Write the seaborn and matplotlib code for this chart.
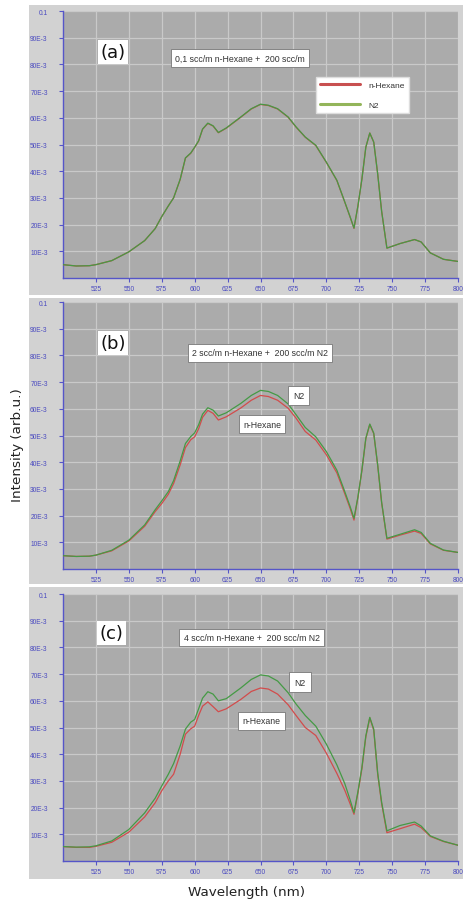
import matplotlib
matplotlib.use("Agg")
import matplotlib.pyplot as plt
from matplotlib.patches import Rectangle
from matplotlib.lines import Line2D
import seaborn as sns
import pandas as pd

# ---------------- data ----------------
wavelength = [500, 510, 520, 525, 537, 550, 562, 570, 575, 580, 584, 589, 593, 597, 600,
              603, 606, 610, 614, 618, 624, 635, 643, 650, 656, 663, 671, 677, 684, 692,
              700, 708, 714, 718, 721, 724, 727, 730, 733, 736, 739, 742, 746, 756, 767,
              772, 779, 789, 800]

a_n2 = [0.0050, 0.0045, 0.0046, 0.0050, 0.0065, 0.0098, 0.0140, 0.0185, 0.0230, 0.0270,
        0.0300, 0.0370, 0.0450, 0.0468, 0.0490, 0.0514, 0.0558, 0.0580, 0.0570, 0.0545,
        0.0562, 0.0603, 0.0634, 0.0651, 0.0647, 0.0634, 0.0603, 0.0566, 0.0528, 0.0497,
        0.0434, 0.0366, 0.0285, 0.0230, 0.0187, 0.0270, 0.0370, 0.0490, 0.0543, 0.0509,
        0.0390, 0.0250, 0.0112, 0.0129, 0.0144, 0.0135, 0.0094, 0.0070, 0.0062]
a_hex = [0.0050, 0.0045, 0.0046, 0.0050, 0.0065, 0.0098, 0.0140, 0.0185, 0.0230, 0.0270,
         0.0300, 0.0369, 0.0449, 0.0467, 0.0489, 0.0513, 0.0557, 0.0579, 0.0569, 0.0544,
         0.0561, 0.0602, 0.0633, 0.0650, 0.0646, 0.0633, 0.0602, 0.0565, 0.0527, 0.0496,
         0.0433, 0.0365, 0.0284, 0.0229, 0.0186, 0.0270, 0.0370, 0.0490, 0.0543, 0.0509,
         0.0390, 0.0250, 0.0112, 0.0129, 0.0144, 0.0135, 0.0094, 0.0070, 0.0062]

b_n2 = [0.0050, 0.0047, 0.0048, 0.0052, 0.0070, 0.0108, 0.0165, 0.0222, 0.0255, 0.0290,
        0.0331, 0.0405, 0.0470, 0.0496, 0.0510, 0.0540, 0.0580, 0.0604, 0.0595, 0.0573,
        0.0585, 0.0620, 0.0650, 0.0669, 0.0665, 0.0650, 0.0618, 0.0578, 0.0530, 0.0495,
        0.0440, 0.0370, 0.0290, 0.0235, 0.0190, 0.0270, 0.0370, 0.0490, 0.0543, 0.0509,
        0.0390, 0.0250, 0.0115, 0.0130, 0.0147, 0.0137, 0.0096, 0.0071, 0.0062]
b_hex = [0.0050, 0.0047, 0.0048, 0.0052, 0.0068, 0.0105, 0.0160, 0.0215, 0.0245, 0.0280,
         0.0320, 0.0390, 0.0455, 0.0484, 0.0495, 0.0525, 0.0568, 0.0594, 0.0583, 0.0558,
         0.0570, 0.0603, 0.0632, 0.0650, 0.0646, 0.0632, 0.0602, 0.0565, 0.0515, 0.0483,
         0.0428, 0.0360, 0.0282, 0.0228, 0.0183, 0.0268, 0.0368, 0.0488, 0.0541, 0.0507,
         0.0388, 0.0248, 0.0112, 0.0127, 0.0142, 0.0133, 0.0094, 0.0070, 0.0062]

c_n2 = [0.0054, 0.0052, 0.0053, 0.0057, 0.0075, 0.0118, 0.0180, 0.0235, 0.0281, 0.0325,
        0.0365, 0.0431, 0.0494, 0.0520, 0.0530, 0.0570, 0.0610, 0.0634, 0.0625, 0.0600,
        0.0608, 0.0648, 0.0680, 0.0697, 0.0693, 0.0674, 0.0630, 0.0588, 0.0545, 0.0505,
        0.0438, 0.0360, 0.0290, 0.0230, 0.0181, 0.0260, 0.0350, 0.0469, 0.0538, 0.0494,
        0.0330, 0.0220, 0.0113, 0.0133, 0.0146, 0.0131, 0.0094, 0.0074, 0.0059]
c_hex = [0.0054, 0.0051, 0.0051, 0.0055, 0.0070, 0.0108, 0.0165, 0.0218, 0.0263, 0.0300,
         0.0325, 0.0400, 0.0475, 0.0495, 0.0505, 0.0545, 0.0580, 0.0596, 0.0578, 0.0559,
         0.0570, 0.0605, 0.0635, 0.0648, 0.0644, 0.0625, 0.0585, 0.0545, 0.0500, 0.0470,
         0.0404, 0.0328, 0.0265, 0.0215, 0.0175, 0.0255, 0.0345, 0.0465, 0.0536, 0.0490,
         0.0325, 0.0215, 0.0106, 0.0121, 0.0138, 0.0125, 0.0092, 0.0073, 0.0059]

series_names = ["n-Hexane", "N2"]
panel_labels = ["(a)", "(b)", "(c)"]
panel_titles = ["0,1 scc/m n-Hexane +  200 scc/m",
                "2 scc/m n-Hexane +  200 scc/m N2",
                "4 scc/m n-Hexane +  200 scc/m N2"]
x_ticks = [525, 550, 575, 600, 625, 650, 675, 700, 725, 750, 775, 800]
y_ticks = [0.01, 0.02, 0.03, 0.04, 0.05, 0.06, 0.07, 0.08, 0.09, 0.1]
y_tick_labels = ["10E-3", "20E-3", "30E-3", "40E-3", "50E-3", "60E-3", "70E-3", "80E-3", "90E-3", "0.1"]
x_label = "Wavelength (nm)"
y_label = "Intensity (arb.u.)"

panels = [(a_hex, a_n2), (b_hex, b_n2), (c_hex, c_n2)]

# ---------------- style ----------------
sns.set_style("white")
plt.rcParams["font.family"] = ["Liberation Sans", "DejaVu Sans"]

W, H = 463, 903
fig = plt.figure(figsize=(W / 100, H / 100), dpi=100)
fig.patch.set_facecolor("white")

outer_color = "#d2d2d2"
plot_bg = "#ababab"
grid_color = "#c9c9c9"
axis_blue = "#5555c8"
tick_blue = "#4a4ac0"
palette = {"n-Hexane": "#d24c4c", "N2": "#459a45"}

outer_boxes = [(6, 296), (299, 585), (588, 880)]
axes_tops = [12, 303, 595]
ax_h = 267
ax_left, ax_right = 63, 458

lab_pos = [(0.1266, 0.846), (0.1266, 0.846), (0.123, 0.854)]
title_pos = [(0.448, 0.824), (0.499, 0.809), (0.478, 0.837)]
n2_pos = [None, (0.596, 0.650), (0.600, 0.670)]
hex_pos = [None, (0.504, 0.543), (0.502, 0.525)]

box_kw = dict(boxstyle="square,pad=0.5", facecolor="white", edgecolor="#777777", linewidth=0.6)

for i, ((hx, n2), (ot, ob), at) in enumerate(zip(panels, outer_boxes, axes_tops)):
    fig.add_artist(Rectangle((29 / W, 1 - ob / H), (W - 29) / W, (ob - ot) / H,
                             transform=fig.transFigure, facecolor=outer_color,
                             edgecolor="none", zorder=0))
    ax = fig.add_axes([ax_left / W, 1 - (at + ax_h) / H, (ax_right - ax_left) / W, ax_h / H])
    ax.set_facecolor(plot_bg)

    df = pd.DataFrame({
        "wavelength": wavelength + wavelength,
        "intensity": list(hx) + list(n2),
        "series": [series_names[0]] * len(wavelength) + [series_names[1]] * len(wavelength),
    })
    sns.lineplot(data=df, x="wavelength", y="intensity", hue="series",
                 hue_order=series_names, palette=palette, linewidth=0.9,
                 legend=False, ax=ax, zorder=3)

    ax.set_xlim(500, 800)
    ax.set_ylim(0, 0.1)
    ax.set_xticks(x_ticks)
    ax.set_xticklabels([str(t) for t in x_ticks])
    ax.set_yticks(y_ticks)
    ax.set_yticklabels(y_tick_labels)
    ax.set_xlabel("")
    ax.set_ylabel("")
    ax.grid(True, color=grid_color, linewidth=0.9, zorder=1)
    ax.set_axisbelow(True)
    for s in ["top", "right"]:
        ax.spines[s].set_visible(False)
    for s in ["left", "bottom"]:
        ax.spines[s].set_color(axis_blue)
        ax.spines[s].set_linewidth(1.0)
    ax.tick_params(axis="both", colors=axis_blue, labelcolor=tick_blue,
                   labelsize=4.8, length=3, width=0.8, direction="out")
    ax.tick_params(axis="y", pad=8)
    ax.tick_params(axis="x", pad=2)
    ax.tick_params(left=True, bottom=True)

    ax.text(lab_pos[i][0], lab_pos[i][1], panel_labels[i], transform=ax.transAxes,
            fontsize=13, family="DejaVu Sans", ha="center", va="center", color="#111111",
            bbox=dict(boxstyle="square,pad=0.15", facecolor="white", edgecolor="none"),
            zorder=5)
    ax.text(title_pos[i][0], title_pos[i][1], panel_titles[i], transform=ax.transAxes,
            fontsize=6.3, ha="center", va="center", color="#333333",
            bbox=box_kw, zorder=5)

    if i == 0:
        handles = [Line2D([], [], color="#c85050", lw=2.2),
                   Line2D([], [], color="#93b55a", lw=2.2)]
        leg = ax.legend(handles, series_names, loc="upper left",
                        bbox_to_anchor=(0.641, 0.753), fontsize=6.0,
                        handlelength=4.8, handletextpad=1.0, labelspacing=1.5,
                        borderpad=0.5, borderaxespad=0, frameon=True, fancybox=False,
                        framealpha=1, edgecolor="#dddddd", facecolor="white")
        for t in leg.get_texts():
            t.set_color("#333333")
        leg.set_zorder(6)
    else:
        ax.text(n2_pos[i][0], n2_pos[i][1], "N2", transform=ax.transAxes,
                fontsize=6.3, ha="center", va="center", color="#333333",
                bbox=dict(boxstyle="square,pad=0.6", facecolor="white",
                          edgecolor="#777777", linewidth=0.6), zorder=5)
        ax.text(hex_pos[i][0], hex_pos[i][1], "n-Hexane", transform=ax.transAxes,
                fontsize=6.3, ha="center", va="center", color="#333333",
                bbox=box_kw, zorder=5)

fig.text(246.7 / W, 1 - 892.7 / H, x_label, ha="center", va="center",
         fontsize=9.7, family="DejaVu Sans", color="#222222")
fig.text(18 / W, 1 - 445 / H, y_label, ha="center", va="center", rotation=90,
         fontsize=9.7, family="DejaVu Sans", color="#222222")

fig.savefig("out.png", dpi=100, facecolor="white")
